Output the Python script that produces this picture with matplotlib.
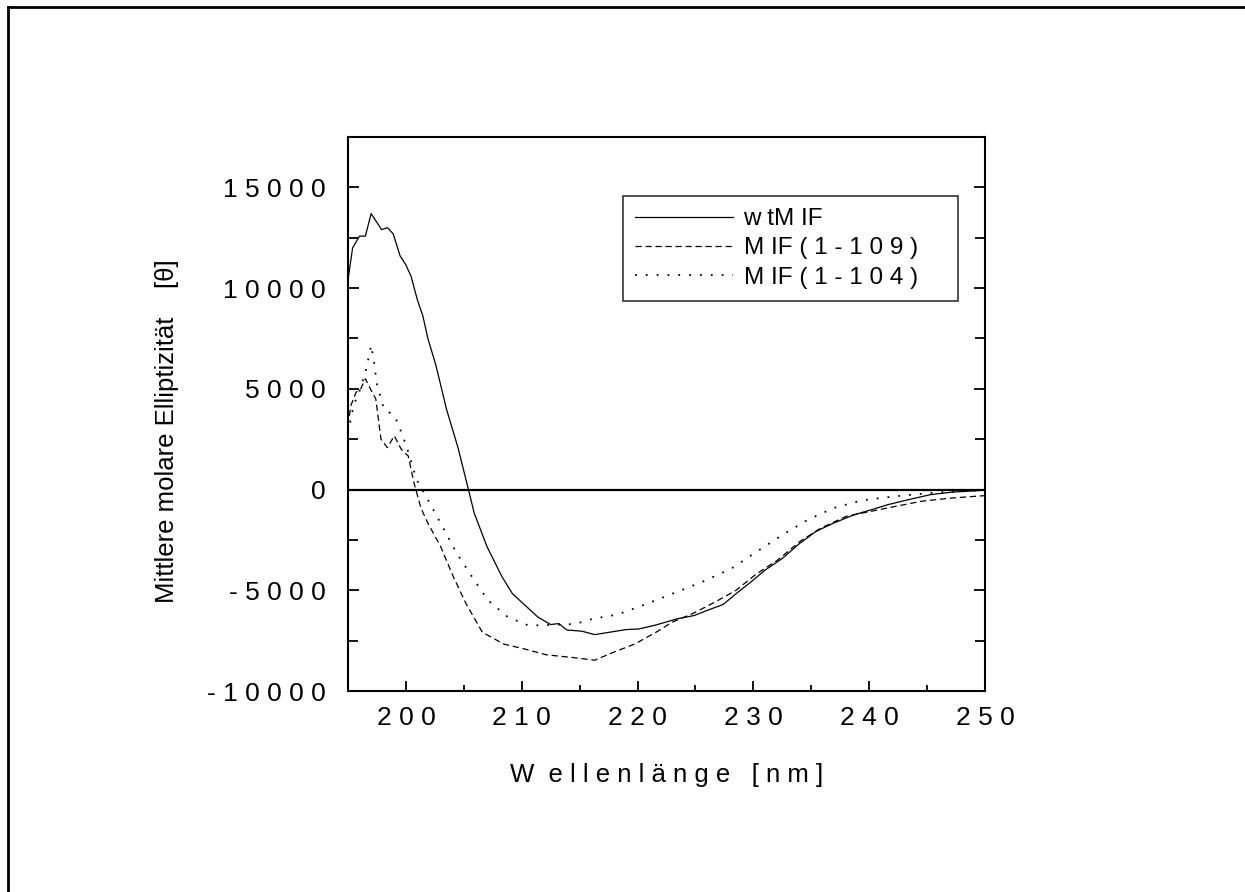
import matplotlib
matplotlib.use("Agg")
import matplotlib.pyplot as plt
from matplotlib.lines import Line2D

plt.rcParams['font.family'] = ['Liberation Sans', 'DejaVu Sans']

# wtMIF (durchgezogen)
wt_x = [195.0, 195.4, 196.0, 196.5, 197.0, 197.9, 198.4, 198.9, 199.5, 200.0, 200.45,
        201.0, 201.45, 201.9, 202.6, 203.5, 204.5, 205.4, 205.9, 207.0, 208.3, 209.2,
        210.3, 211.4, 212.5, 213.2, 213.9, 215.2, 216.3, 217.6, 219.0, 220.1, 221.6,
        223.4, 224.9, 226.0, 227.4, 228.5, 229.8, 231.0, 232.5, 234.0, 235.4, 236.9,
        238.7, 240.2, 241.6, 243.4, 245.3, 247.1, 250.0]
wt_y = [10400, 12000, 12580, 12580, 13700, 12900, 13000, 12700, 11600, 11150, 10580,
        9400, 8650, 7500, 6150, 4000, 2080, 0, -1170, -2830, -4330, -5170,
        -5750, -6330, -6700, -6650, -6970, -7030, -7200, -7080, -6950, -6920, -6720,
        -6420, -6250, -6000, -5700, -5170, -4580, -4000, -3420, -2670, -2080, -1670,
        -1250, -1000, -750, -500, -250, -130, -30]

# MIF(1-109) (gestrichelt)
m109_x = [195.0, 195.25, 195.7, 196.1, 196.5, 197.0, 197.4, 197.85, 198.4, 199.0, 199.6,
          200.2, 200.7, 201.3, 201.9, 203.0, 204.1, 205.2, 206.6, 208.45, 210.3, 212.1,
          214.3, 216.3, 217.9, 219.75, 221.6, 223.0, 224.85, 226.7, 228.5, 230.3, 232.1,
          234.0, 235.8, 238.0, 240.15, 242.3, 244.5, 247.1, 250.0]
m109_y = [3170, 4170, 4830, 5000, 5500, 4920, 4500, 2500, 2080, 2670, 2000,
          1670, 330, -920, -1670, -2830, -4330, -5670, -7080, -7670, -7920, -8200,
          -8330, -8470, -8080, -7670, -7080, -6580, -6130, -5580, -5000, -4170, -3500,
          -2580, -1920, -1330, -1080, -830, -580, -420, -300]

# MIF(1-104) (gepunktet)
m104_x = [195.0, 195.5, 196.0, 196.55, 197.0, 197.3, 197.45, 197.7, 198.1, 199.0, 199.4,
          199.7, 200.0, 200.3, 200.7, 201.0, 201.9, 203.0, 204.4, 205.9, 207.1, 208.8,
          210.6, 212.5, 214.6, 216.1, 218.3, 220.8, 223.4, 225.6, 228.1, 230.3, 232.5,
          234.7, 236.9, 239.4, 242.3, 245.3, 247.8, 250.0]
m104_y = [2800, 4200, 4900, 5920, 7170, 6170, 5330, 4830, 4000, 3670, 3170,
          2670, 2250, 1670, 920, 420, -500, -1670, -3170, -4500, -5500, -6330,
          -6750, -6720, -6670, -6420, -6200, -5670, -5080, -4580, -3920, -3080, -2250,
          -1500, -920, -530, -330, -170, -80, -30]

labels = ['w tM IF', 'M IF ( 1 - 1 0 9 )', 'M IF ( 1 - 1 0 4 )']

x_ticks = [200, 210, 220, 230, 240, 250]
x_ticklabels = ['2 0 0', '2 1 0', '2 2 0', '2 3 0', '2 4 0', '2 5 0']
y_ticks = [-10000, -5000, 0, 5000, 10000, 15000]
y_ticklabels = ['- 1 0 0 0 0', '- 5 0 0 0', '0', '5 0 0 0', '1 0 0 0 0', '1 5 0 0 0']

fig = plt.figure(figsize=(12.45, 8.92), dpi=100)
ax = fig.add_axes([0.2795, 0.2253, 0.5117, 0.6211])

ax.plot(wt_x, wt_y, color='black', lw=0.9, label=labels[0])
ax.plot(m109_x, m109_y, color='black', lw=0.9, linestyle=(0, (5, 3)), label=labels[1])
ax.plot(m104_x, m104_y, color='black', lw=1.3, linestyle=(0, (1, 5)), label=labels[2])
ax.axhline(0, color='black', lw=1.6)

ax.set_xlim(195, 250)
ax.set_ylim(-10000, 17500)

ax.set_xticks(x_ticks)
ax.set_xticklabels(x_ticklabels)
ax.set_xticks([205, 215, 225, 235, 245], minor=True)
ax.set_yticks(y_ticks)
ax.set_yticklabels(y_ticklabels)
ax.set_yticks([-7500, -2500, 2500, 7500, 12500, 17500], minor=True)

ax.tick_params(which='both', direction='in', top=False, right=True, labelsize=19, width=1.3)
ax.tick_params(axis='x', which='major', length=7, pad=11)
ax.tick_params(axis='x', which='minor', length=4)
ax.tick_params(axis='y', which='major', length=8, pad=16)
ax.tick_params(axis='y', which='minor', length=7)

for s in ax.spines.values():
    s.set_linewidth(1.5)

ax.set_xlabel('W  e l l e n l ä n g e   [ n m ]', fontsize=18.5)
ax.xaxis.set_label_coords(0.5, -0.13)
ax.set_ylabel('Mittlere molare Elliptizität    [θ]', fontsize=18.5)
ax.yaxis.set_label_coords(-0.265, 0.47)

leg = ax.legend(loc='upper left', bbox_to_anchor=(0.432, 0.8935, 0.526, 0.0), mode='expand',
                fontsize=17.5, frameon=True, fancybox=False, handlelength=4.0,
                handletextpad=0.45, borderpad=0.5, labelspacing=0.3, borderaxespad=0)
leg.get_frame().set_edgecolor('black')
leg.get_frame().set_linewidth(1.2)

# Rahmen um die Seite
fig.add_artist(Line2D([8 / 1245, 1], [1 - 7 / 892, 1 - 7 / 892], color='black', lw=2))
fig.add_artist(Line2D([8 / 1245, 8 / 1245], [0, 1 - 7 / 892], color='black', lw=2))

fig.savefig('out.png', dpi=100)
